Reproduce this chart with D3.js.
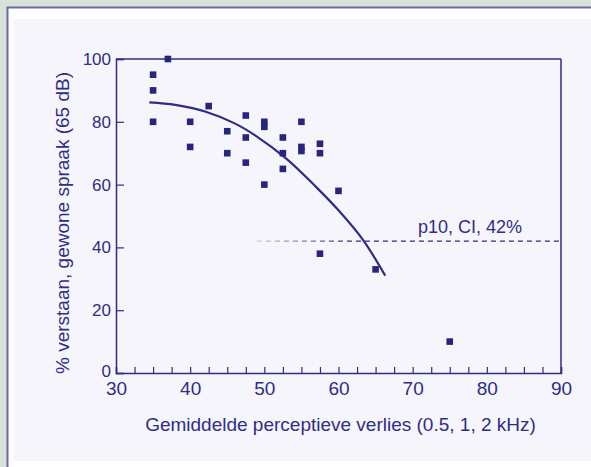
<!DOCTYPE html>
<html>
<head>
<meta charset="utf-8">
<script src="https://cdn.jsdelivr.net/npm/d3@7"></script>
<style>
  body { margin: 0; background: #d8e2d6; }
  svg { display: block; }
  text { font-family: "Liberation Sans", Arial, sans-serif; fill: #2f2d88; }
</style>
</head>
<body>
<div id="chart"></div>
<script>
var WIDTH = 591, HEIGHT = 467;
var INK = "#2e2c85";

// scatter: gemiddeld verlies (dB) vs % verstaan
var lossX   = [35, 35, 35, 37, 40, 40, 42.5, 45, 45, 47.5, 47.5, 47.5, 50, 50, 50, 52.5, 52.5, 52.5, 55, 55, 55, 57.5, 57.5, 60, 57.5, 65, 75];
var scoreY  = [95, 90, 80, 100, 80, 72, 85, 77, 70, 82, 75, 67, 80, 78.4, 60, 75, 70, 65, 80, 72, 70.7, 73, 70, 58, 38, 33, 10];

// fitted curve
var curveX = [34.5, 38, 42, 46, 49, 53, 57, 60, 63.3, 66.3];
var curveY = [86.2, 85.4, 83.3, 79.5, 75.3, 68.2, 59.2, 51.8, 42.4, 31];

var refLevel = 42, refStart = 49, refLabel = "p10, CI, 42%";
var xTicks = d3.range(30, 90.01, 2.5);
var yTicks = [0, 20, 40, 60, 80, 100];

var svg = d3.select("#chart").append("svg")
    .attr("width", WIDTH)
    .attr("height", HEIGHT);

// page frame
svg.append("rect")
    .attr("x", 7.5).attr("y", 7.5)
    .attr("width", 620).attr("height", 500)
    .attr("fill", "#ffffff")
    .attr("stroke", "#6b68b3")
    .attr("stroke-width", 2);
svg.append("rect")
    .attr("x", 14).attr("y", 19)
    .attr("width", 600).attr("height", 442)
    .attr("fill", "#f5f5fb");

var x = d3.scaleLinear().domain([30, 90]).range([116, 561]);
var y = d3.scaleLinear().domain([0, 100]).range([373, 59]);

// axes
var xAxis = svg.append("g")
    .attr("transform", "translate(0," + y(0) + ")")
    .call(d3.axisBottom(x)
        .tickValues(xTicks)
        .tickSize(-6)
        .tickPadding(9)
        .tickFormat(function(d) { return d % 10 === 0 ? d : ""; }));
xAxis.selectAll("text").attr("font-size", "19px").style("fill", "#2f2d88");

var yAxis = svg.append("g")
    .attr("transform", "translate(" + x(30) + ",0)")
    .call(d3.axisLeft(y)
        .tickValues(yTicks)
        .tickSize(-8)
        .tickPadding(5));
yAxis.selectAll("text").attr("font-size", "17px").style("fill", "#2f2d88");
yAxis.selectAll("text").filter(function(d) { return d === 0; }).attr("dy", "0.2em");

svg.selectAll(".domain, .tick line")
    .attr("stroke", INK)
    .attr("stroke-width", 1.5);
svg.selectAll(".tick line").attr("stroke-width", 1.2);

// top and right frame of the plot
svg.append("line")
    .attr("x1", x(30)).attr("x2", x(90))
    .attr("y1", y(100)).attr("y2", y(100))
    .attr("stroke", INK).attr("stroke-width", 1.5);
svg.append("line")
    .attr("x1", x(90)).attr("x2", x(90))
    .attr("y1", y(100)).attr("y2", y(0))
    .attr("stroke", INK).attr("stroke-width", 1.5);

// reference line, fades in on the left
var grad = svg.append("defs").append("linearGradient")
    .attr("id", "fade")
    .attr("gradientUnits", "userSpaceOnUse")
    .attr("x1", x(refStart)).attr("x2", x(62))
    .attr("y1", 0).attr("y2", 0);
grad.append("stop").attr("offset", 0).attr("stop-color", INK).attr("stop-opacity", 0.2);
grad.append("stop").attr("offset", 1).attr("stop-color", INK).attr("stop-opacity", 1);

svg.append("line")
    .attr("x1", x(refStart)).attr("x2", x(90))
    .attr("y1", y(refLevel)).attr("y2", y(refLevel))
    .attr("stroke", "url(#fade)")
    .attr("stroke-width", 1.2)
    .attr("stroke-dasharray", "5,4");

svg.append("text")
    .attr("x", 418)
    .attr("y", y(refLevel) - 8)
    .attr("font-size", "18px")
    .text(refLabel);

// fitted curve
var curvePts = curveX.map(function(d, i) { return [d, curveY[i]]; });
svg.append("path")
    .datum(curvePts)
    .attr("fill", "none")
    .attr("stroke", INK)
    .attr("stroke-width", 2.2)
    .attr("d", d3.line()
        .x(function(d) { return x(d[0]); })
        .y(function(d) { return y(d[1]); })
        .curve(d3.curveCatmullRom));

// points
var pts = lossX.map(function(d, i) { return { x: d, y: scoreY[i] }; });
svg.selectAll("rect.pt")
    .data(pts)
    .enter()
    .append("rect")
        .attr("class", "pt")
        .attr("x", function(d) { return x(d.x) - 3.3; })
        .attr("y", function(d) { return y(d.y) - 3.3; })
        .attr("width", 6.6)
        .attr("height", 6.6)
        .attr("fill", "#27257d");

// axis titles
svg.append("text")
    .attr("x", (x(30) + x(90)) / 2 + 2)
    .attr("y", 431)
    .attr("text-anchor", "middle")
    .attr("font-size", "19px")
    .text("Gemiddelde perceptieve verlies (0.5, 1, 2 kHz)");

svg.append("text")
    .attr("transform", "translate(69,223) rotate(-90)")
    .attr("text-anchor", "middle")
    .attr("font-size", "19px")
    .text("% verstaan, gewone spraak (65 dB)");
</script>
</body>
</html>
